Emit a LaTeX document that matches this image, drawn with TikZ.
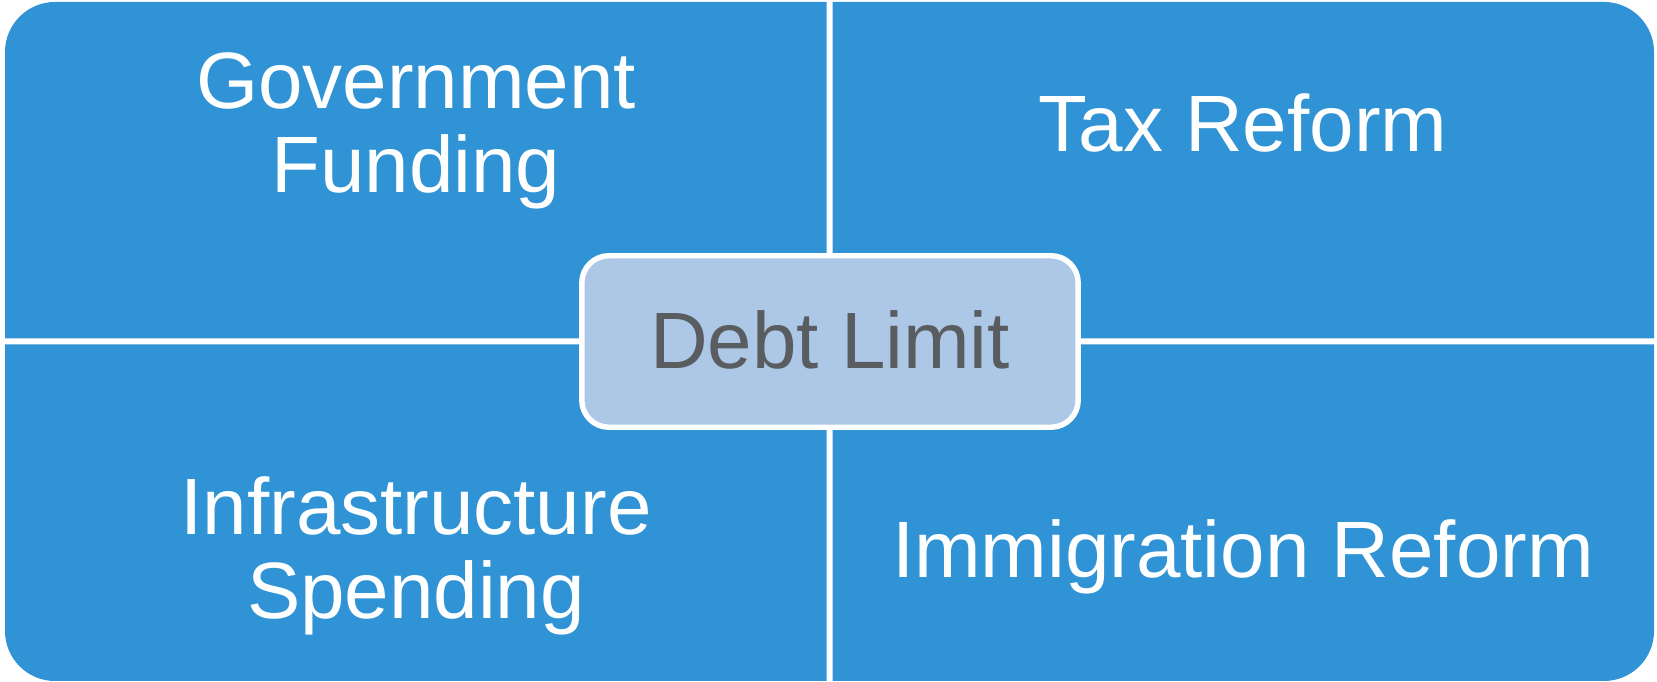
\documentclass[tikz,border=0pt]{standalone}
\usepackage{fontspec}
\setmainfont{Liberation Sans}
\usetikzlibrary{positioning}
\definecolor{quadblue}{RGB}{48,147,213}
\definecolor{hubfill}{RGB}{173,200,230}
\definecolor{hubtext}{RGB}{89,93,96}
\tikzset{
  quad/.style={fill=quadblue},
  quadlabel/.style={text=white,font=\fontsize{45.5}{48}\selectfont,align=center,inner sep=0pt,anchor=north},
  hub/.style={draw=white,line width=3.1pt,fill=hubfill,rounded corners=15.4pt,minimum width=9.93cm,minimum height=3.43cm,text=hubtext,font=\fontsize{45.5}{48}\selectfont}
}
\begin{document}
\begin{tikzpicture}[x=0.02cm,y=0.02cm]
\useasboundingbox (0,0) rectangle (1657,682);
\fill[white] (0,0) rectangle (1657,682);
% four quadrants, outer corner rounded
\fill[quad] (826.5,343.5) -- (5,343.5) -- (5,630) arc[start angle=180,end angle=90,radius=50] -- (826.5,680) -- cycle;
\fill[quad] (832.5,343.5) -- (1654,343.5) -- (1654,630) arc[start angle=0,end angle=90,radius=50] -- (832.5,680) -- cycle;
\fill[quad] (826.5,337.5) -- (5,337.5) -- (5,51) arc[start angle=180,end angle=270,radius=50] -- (826.5,1) -- cycle;
\fill[quad] (832.5,337.5) -- (1654,337.5) -- (1654,51) arc[start angle=0,end angle=-90,radius=50] -- (832.5,1) -- cycle;

\node[quadlabel] (gov) at (416,630) {Government\\Funding};
\node[quadlabel] (tax) at (1243,589) {Tax Reform};
\node[quadlabel] (infra) at (416,206) {Infrastructure\\Spending};
\node[quadlabel] (immig) at (1243,163) {Immigration Reform};

% centre box
\node[hub] (debt) at (830,340.5) {\raisebox{2pt}{Debt Limit}};
\end{tikzpicture}
\end{document}
